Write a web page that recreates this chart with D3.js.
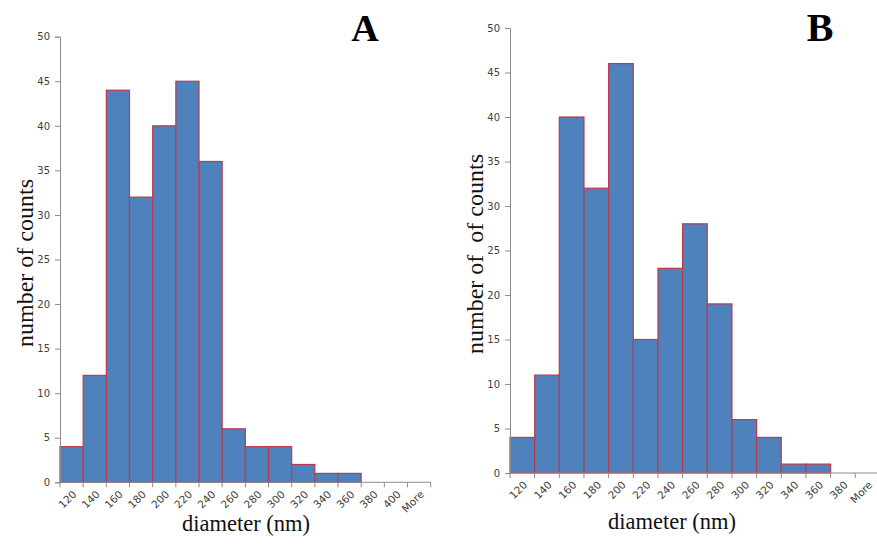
<!DOCTYPE html>
<html>
<head>
<meta charset="utf-8">
<script src="https://cdn.jsdelivr.net/npm/d3@7"></script>
<style>
  html, body { margin: 0; padding: 0; background: #fff; }
  svg { display: block; }
</style>
</head>
<body>
<svg id="chart" width="877" height="545"></svg>
<script>
// Size histogram, sample A
const binsA = ["120","140","160","180","200","220","240","260","280","300","320","340","360","380","400","More"];
const countsA = [4, 12, 44, 32, 40, 45, 36, 6, 4, 4, 2, 1, 1, 0, 0, 0];

// Size histogram, sample B
const binsB = ["120","140","160","180","200","220","240","260","280","300","320","340","360","380","More"];
const countsB = [4, 11, 40, 32, 46, 15, 23, 28, 19, 6, 4, 1, 1, 0, 0];

const yTicks = [0, 5, 10, 15, 20, 25, 30, 35, 40, 45, 50];

const svg = d3.select("#chart");
const serif = "'Liberation Serif', 'Times New Roman', serif";
const axisColor = "#8c8c8c";
const tickText = "#404040";

function panel(opts) {
  const { bins, counts, x0, x1, yTop, yBot, letter, letterX, letterSize,
          yLabel, yLabelX, yLabelY, xLabelX, xLabelY } = opts;

  const x = d3.scaleBand().domain(bins).range([x0, x1]).padding(0);
  const y = d3.scaleLinear().domain([0, 50]).range([yBot, yTop]);

  const g = svg.append("g");

  // bars
  g.selectAll("rect.bar")
    .data(bins.map((b, i) => ({ b, v: counts[i] })).filter(d => d.v > 0))
    .join("rect")
    .attr("class", "bar")
    .attr("x", d => x(d.b))
    .attr("y", d => y(d.v))
    .attr("width", x.bandwidth())
    .attr("height", d => y(0) - y(d.v))
    .attr("fill", "#4f81bd")
    .attr("stroke", "#c0394b")
    .attr("stroke-width", 1.2);

  // y axis
  const yAxis = d3.axisLeft(y).tickValues(yTicks).tickSize(5).tickPadding(5);
  const ya = g.append("g").attr("transform", `translate(${x0},0)`).call(yAxis);
  ya.select(".domain").attr("stroke", axisColor);
  ya.selectAll(".tick line").attr("stroke", axisColor);
  ya.selectAll(".tick text")
    .attr("fill", tickText)
    .style("font-family", "'DejaVu Sans', Verdana, sans-serif")
    .style("font-size", "10px");

  // x axis: ticks at bin boundaries, labels under bin centres
  const xa = g.append("g").attr("transform", `translate(0,${yBot})`);
  xa.append("line")
    .attr("x1", x0).attr("x2", x1)
    .attr("stroke", axisColor);
  const edges = bins.map(b => x(b)).concat([x1]);
  xa.selectAll("line.tk")
    .data(edges)
    .join("line")
    .attr("class", "tk")
    .attr("x1", d => d).attr("x2", d => d)
    .attr("y1", 0).attr("y2", 5)
    .attr("stroke", axisColor);
  xa.selectAll("text")
    .data(bins)
    .join("text")
    .attr("transform", d => `translate(${x(d) + x.bandwidth() / 2 + 3},10) rotate(-45)`)
    .attr("text-anchor", "end")
    .attr("dy", "0.35em")
    .attr("fill", tickText)
    .style("font-family", "'DejaVu Sans', Verdana, sans-serif")
    .style("font-size", "10.5px")
    .text(d => d);

  // axis titles
  g.append("text")
    .attr("transform", `translate(${yLabelX},${yLabelY}) rotate(-90)`)
    .attr("text-anchor", "middle")
    .style("font-family", serif)
    .style("font-size", "24px")
    .style("white-space", "pre")
    .attr("fill", "#111")
    .text(yLabel);

  g.append("text")
    .attr("x", xLabelX).attr("y", xLabelY)
    .attr("text-anchor", "middle")
    .style("font-family", serif)
    .style("font-size", "22.5px")
    .attr("fill", "#111")
    .text("diameter (nm)");

  // panel letter
  g.append("text")
    .attr("x", letterX).attr("y", 41)
    .attr("text-anchor", "middle")
    .style("font-family", serif)
    .style("font-weight", "bold")
    .style("font-size", letterSize + "px")
    .attr("fill", "#000")
    .text(letter);
}

panel({
  bins: binsA, counts: countsA,
  x0: 60, x1: 430.7, yTop: 36.7, yBot: 482.3,
  letter: "A", letterX: 365, letterSize: 38,
  yLabel: "number of counts", yLabelX: 33, yLabelY: 263,
  xLabelX: 246, xLabelY: 531
});

panel({
  bins: binsB, counts: countsB,
  x0: 510, x1: 879.9, yTop: 28, yBot: 473,
  letter: "B", letterX: 820, letterSize: 40,
  yLabel: "number of  of counts", yLabelX: 483, yLabelY: 254,
  xLabelX: 672, xLabelY: 529
});
</script>
</body>
</html>
